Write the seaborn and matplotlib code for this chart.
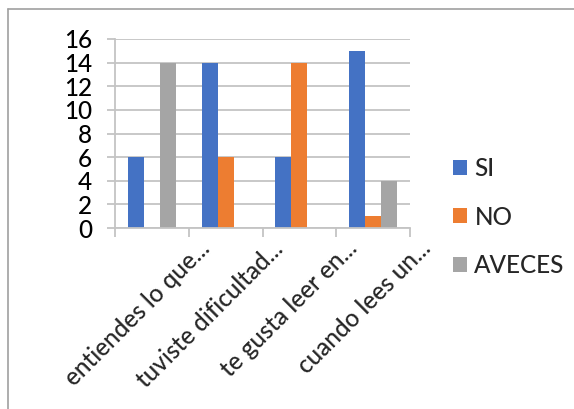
import matplotlib
matplotlib.use("Agg")
import matplotlib.pyplot as plt
import matplotlib.transforms as mtransforms
from matplotlib.lines import Line2D
from matplotlib.patches import Patch
import pandas as pd
import seaborn as sns

categories = ["entiendes lo que...", "tuviste dificultad...", "te gusta leer en...", "cuando lees un..."]
series = ["SI", "NO", "AVECES"]
si_values = [6, 14, 6, 15]
no_values = [0, 6, 14, 1]
aveces_values = [14, 0, 0, 4]
y_ticks = [0, 2, 4, 6, 8, 10, 12, 14, 16]
colors = ["#4472C4", "#ED7D31", "#A5A5A5"]

rows = []
for name, vals in zip(series, [si_values, no_values, aveces_values]):
    for cat, v in zip(categories, vals):
        rows.append({"pregunta": cat, "respuesta": name, "valor": v})
df = pd.DataFrame(rows)

sns.set_theme(style="white")
plt.rcParams["font.family"] = ["Lato", "DejaVu Sans"]
plt.rcParams["font.weight"] = "medium"

FS = 17.5
W, H = 574, 409
fig = plt.figure(figsize=(W / 100, H / 100), dpi=100)
ax = fig.add_axes([115 / W, 1 - 228 / H, (410 - 115) / W, (228 - 39) / H])

sns.barplot(data=df, x="pregunta", y="valor", hue="respuesta",
            order=categories, hue_order=series, palette=colors,
            width=0.65, linewidth=0, saturation=1, ax=ax, legend=False)

grid_c = "#C4C4C4"
ax.set_ylim(0, 16)
ax.set_xlim(-0.5, len(categories) - 0.5)
ax.set_yticks(y_ticks)
ax.yaxis.grid(True, color=grid_c, linewidth=1.3)
ax.set_axisbelow(True)
ax.tick_params(axis="y", length=5.5, width=1.3, color=grid_c, pad=11,
               labelsize=FS, labelcolor="black", left=True)

# category boundaries carry the tick marks, centres carry the labels
ax.set_xticks([i - 0.5 for i in range(len(categories) + 1)])
ax.set_xticklabels([])
ax.set_xticks(range(len(categories)), minor=True)
ax.tick_params(axis="x", which="major", length=6.5, width=1.3, color=grid_c, bottom=True)
ax.tick_params(axis="x", which="minor", length=0)
offset = mtransforms.ScaledTranslation(0.54, -0.12, fig.dpi_scale_trans)
labels = ax.set_xticklabels(categories, minor=True, rotation=45, ha="right",
                            va="center", rotation_mode="anchor", fontsize=FS)
for lab in labels:
    lab.set_transform(lab.get_transform() + offset)

for side in ["top", "right"]:
    ax.spines[side].set_visible(False)
for side in ["left", "bottom"]:
    ax.spines[side].set_color(grid_c)
    ax.spines[side].set_linewidth(1.3)
ax.set_xlabel("")
ax.set_ylabel("")

handles = [Patch(facecolor=c, edgecolor="none", label=s) for c, s in zip(colors, series)]
fig.legend(handles=handles, loc="upper left",
           bbox_to_anchor=(453 / W, 1 - 157 / H), frameon=False, fontsize=FS,
           handlelength=0.58, handleheight=0.58, handletextpad=0.3,
           labelspacing=1.05, borderpad=0, borderaxespad=0)

# chart area frame
frame_c = "#A0A0A0"
fig.add_artist(Line2D([8 / W, 8 / W], [0, 1 - 9 / H], color=frame_c, linewidth=1.2,
                      transform=fig.transFigure))
fig.add_artist(Line2D([8 / W, 1], [1 - 9 / H, 1 - 9 / H], color=frame_c, linewidth=1.2,
                      transform=fig.transFigure))

fig.savefig("out.png", dpi=100)
